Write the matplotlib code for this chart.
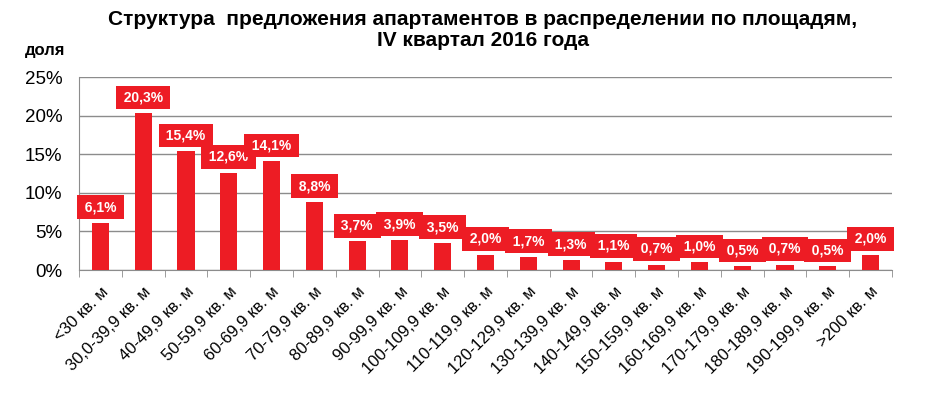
import matplotlib.pyplot as plt
import numpy as np

plt.rcParams['font.family'] = ['Liberation Sans', 'DejaVu Sans']

# площади
kategorii = ['<30 кв. м', '30,0-39,9 кв. м', '40-49,9 кв. м', '50-59,9 кв. м',
             '60-69,9 кв. м', '70-79,9 кв. м', '80-89,9 кв. м', '90-99,9 кв. м',
             '100-109,9 кв. м', '110-119,9 кв. м', '120-129,9 кв. м', '130-139,9 кв. м',
             '140-149,9 кв. м', '150-159,9 кв. м', '160-169,9 кв. м', '170-179,9 кв. м',
             '180-189,9 кв. м', '190-199,9 кв. м', '>200 кв. м']
# доли, %
doli = [6.1, 20.3, 15.4, 12.6, 14.1, 8.8, 3.7, 3.9, 3.5, 2.0,
        1.7, 1.3, 1.1, 0.7, 1.0, 0.5, 0.7, 0.5, 2.0]
yticks = [0, 5, 10, 15, 20, 25]

rot = '#ED1C24'
grau = '#8C8C8C'

fig = plt.figure(figsize=(9.47, 3.98), dpi=100)
ax = fig.add_axes([0.0834, 0.3216, 0.8585, 0.4849])

x = np.arange(len(doli))
ax.bar(x, doli, width=0.40, color=rot, zorder=3)

ax.set_xlim(-0.5, len(doli) - 0.5)
ax.set_ylim(0, 25)
ax.set_yticks(yticks)
ax.set_yticklabels([f'{t}%' for t in yticks], fontsize=13.5)
ax.yaxis.grid(True, color=grau, linewidth=1, zorder=0)
ax.tick_params(axis='y', length=0, pad=12)

ax.set_xticks(x)
ax.set_xticklabels(kategorii, rotation=45, ha='right', rotation_mode='anchor', fontsize=12)
ax.set_xticks(np.arange(-0.5, len(doli)), minor=True)
ax.tick_params(axis='x', which='major', length=0, pad=10)
ax.tick_params(axis='x', which='minor', length=5, color=grau, direction='out')

for s in ['top', 'right']:
    ax.spines[s].set_visible(False)
for s in ['left', 'bottom']:
    ax.spines[s].set_color(grau)

# подписи в красных рамках
for i, v in enumerate(doli):
    ax.annotate('\u2009' + f'{v:.1f}%'.replace('.', ',') + '\u2009', (i, v), xytext=(0, 6.3),
                textcoords='offset points', ha='center', va='bottom',
                fontsize=10, fontweight='bold', color='white', zorder=5,
                bbox=dict(boxstyle='square,pad=0.35', fc=rot, ec='none'))

fig.text(0.51, 0.925, 'Структура  предложения апартаментов в распределении по площадям,\nIV квартал 2016 года',
         ha='center', va='center', fontsize=15, fontweight='bold', linespacing=1.15)
fig.text(0.026, 0.872, 'доля', ha='left', va='center', fontsize=12, fontweight='bold')

fig.savefig('out.png', dpi=100)
